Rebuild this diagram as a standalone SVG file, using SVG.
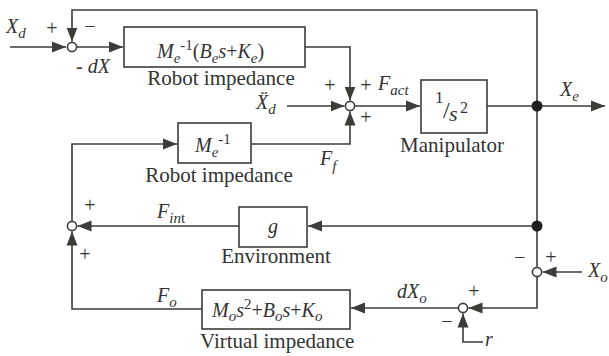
<svg xmlns="http://www.w3.org/2000/svg" width="609" height="356" viewBox="0 0 609 356">
<style>
.ln{fill:none;stroke:#3b3d39;stroke-width:1.6}
.bx{fill:#fff;stroke:#3b3d39;stroke-width:1.6}
.sj{fill:#fff;stroke:#3b3d39;stroke-width:1.6}
.dot{fill:#1f1f1f}
text{font-family:"Liberation Serif","Times New Roman",serif;font-size:20px;fill:#333}
.it{font-style:italic}
.sm{font-size:15px}
.lb{text-anchor:middle}
.cap{font-size:21px}
</style>
<defs>
<marker id="ar" markerUnits="userSpaceOnUse" markerWidth="15" markerHeight="12" refX="14" refY="6" orient="auto">
<path d="M0,0.5 L14,6 L0,11.5 z" fill="#3b3d39"/>
</marker>
</defs>
<g id="connectors">
<path class="ln" d="M10,47 H66" marker-end="url(#ar)"/>
<path class="ln" d="M537,10 H72 V41.5" marker-end="url(#ar)"/>
<path class="ln" d="M77,47 H123" marker-end="url(#ar)"/>
<path class="ln" d="M305,47 H350 V100.5" marker-end="url(#ar)"/>
<path class="ln" d="M287,106 H344.5" marker-end="url(#ar)"/>
<path class="ln" d="M251,144 H350 V111.5" marker-end="url(#ar)"/>
<path class="ln" d="M355,106 H420" marker-end="url(#ar)"/>
<path class="ln" d="M487,106 H605" marker-end="url(#ar)"/>
<path class="ln" d="M537,10 V266.5"/>
<path class="ln" d="M537,226 H308" marker-end="url(#ar)"/>
<path class="ln" d="M239,226 H77.5" marker-end="url(#ar)"/>
<path class="ln" d="M72,221 V144 H177" marker-end="url(#ar)"/>
<path class="ln" d="M582,272 H542.5" marker-end="url(#ar)"/>
<path class="ln" d="M537,277 V308 H468.5" marker-end="url(#ar)"/>
<path class="ln" d="M483,342 H463 V313.5" marker-end="url(#ar)"/>
<path class="ln" d="M458,308 H351" marker-end="url(#ar)"/>
<path class="ln" d="M202,309 H72 V231.5" marker-end="url(#ar)"/>
<circle class="dot" cx="537" cy="106" r="5.5"/>
<circle class="dot" cx="537" cy="226" r="5.5"/>
</g>
<g id="sum1"><circle class="sj" cx="72" cy="47" r="4.6"/></g>
<g id="sum2"><circle class="sj" cx="350" cy="106" r="4.6"/></g>
<g id="sum3"><circle class="sj" cx="72" cy="226" r="4.6"/></g>
<g id="sum4"><circle class="sj" cx="537" cy="272" r="4.6"/></g>
<g id="sum5"><circle class="sj" cx="463" cy="308" r="4.6"/></g>
<g id="block-robot1">
<rect class="bx" x="124" y="27" width="181" height="40"/>
<text x="157" y="58"><tspan class="it">M</tspan><tspan class="it sm" dy="5">e</tspan><tspan class="sm" dy="-13">-1</tspan><tspan dy="8">(</tspan><tspan class="it">B</tspan><tspan class="it sm" dy="5">e</tspan><tspan class="it" dy="-5">s</tspan><tspan>+</tspan><tspan class="it">K</tspan><tspan class="it sm" dy="5">e</tspan><tspan dy="-5">)</tspan></text>
<text class="lb cap" x="221" y="85">Robot impedance</text>
</g>
<g id="block-manip">
<rect class="bx" x="421" y="80" width="66" height="53"/>
<text x="435" y="103" style="font-size:17px">1</text>
<text x="443" y="118" style="font-size:24px">/</text>
<text x="449" y="121" class="it" style="font-size:22px">s</text>
<text x="460" y="113" style="font-size:16px">2</text>
<text class="lb cap" x="452" y="152">Manipulator</text>
</g>
<g id="block-robot2">
<rect class="bx" x="178" y="123" width="73" height="40"/>
<text x="195" y="152"><tspan class="it">M</tspan><tspan class="it sm" dy="5">e</tspan><tspan class="sm" dy="-13">-1</tspan></text>
<text class="lb cap" x="219" y="182">Robot impedance</text>
</g>
<g id="block-env">
<rect class="bx" x="239" y="207" width="68" height="40"/>
<text class="lb it" x="273" y="233">g</text>
<text class="lb cap" x="276" y="263">Environment</text>
</g>
<g id="block-virtual">
<rect class="bx" x="202" y="290" width="148" height="39"/>
<text x="212" y="317"><tspan class="it">M</tspan><tspan class="it sm" dy="4">o</tspan><tspan class="it" dy="-4">s</tspan><tspan class="sm" dy="-8">2</tspan><tspan dy="8">+</tspan><tspan class="it">B</tspan><tspan class="it sm" dy="4">o</tspan><tspan class="it" dy="-4">s</tspan><tspan>+</tspan><tspan class="it">K</tspan><tspan class="it sm" dy="4">o</tspan></text>
<text class="cap" x="200" y="348">Virtual impedance</text>
</g>
<g id="labels">
<text x="6" y="33"><tspan class="it">X</tspan><tspan class="it sm" dy="5">d</tspan></text>
<text class="lb" x="52" y="35">+</text>
<text class="lb" x="90" y="33">−</text>
<text x="76" y="73">- <tspan class="it">dX</tspan></text>
<text x="256" y="109"><tspan class="it">Ẍ</tspan><tspan class="it sm" dy="5">d</tspan></text>
<text class="lb" x="330" y="92">+</text>
<text class="lb" x="366" y="92">+</text>
<text class="lb" x="366" y="124">+</text>
<text x="378" y="90"><tspan class="it">F</tspan><tspan class="it sm" dy="5">act</tspan></text>
<text x="560" y="96"><tspan class="it">X</tspan><tspan class="it sm" dy="5">e</tspan></text>
<text x="320" y="165"><tspan class="it">F</tspan><tspan class="it sm" dy="6">f</tspan></text>
<text class="lb" x="90" y="212">+</text>
<text x="157" y="218"><tspan class="it">F</tspan><tspan class="it sm" dy="5">in</tspan><tspan class="sm">t</tspan></text>
<text class="lb" x="85" y="261">+</text>
<text x="157" y="302"><tspan class="it">F</tspan><tspan class="it sm" dy="5">o</tspan></text>
<text class="lb" x="520" y="264">−</text>
<text class="lb" x="551" y="264">+</text>
<text x="588" y="277"><tspan class="it">X</tspan><tspan class="it sm" dy="5">o</tspan></text>
<text x="397" y="298"><tspan class="it">dX</tspan><tspan class="it sm" dy="5">o</tspan></text>
<text class="lb" x="474" y="298">+</text>
<text class="lb" x="447" y="328">−</text>
<text x="485" y="346" class="it">r</text>
</g>
</svg>
